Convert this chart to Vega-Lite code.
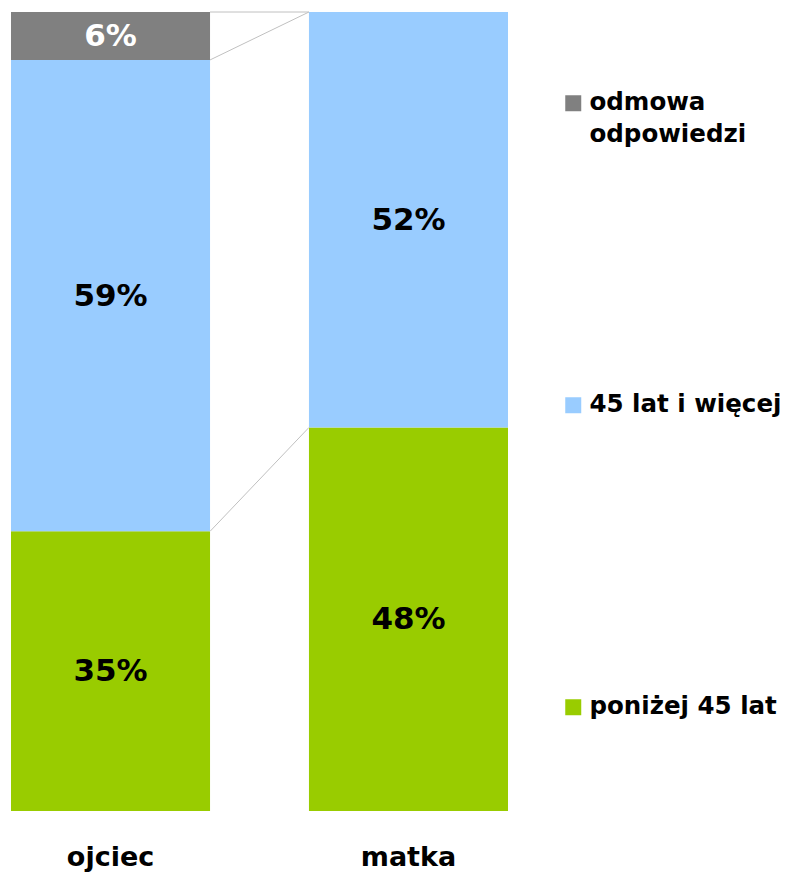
{
  "$schema": "https://vega.github.io/schema/vega-lite/v6.json",
  "width": 497,
  "height": 799,
  "autosize": "none",
  "padding": {"left": 11, "top": 12, "right": 284, "bottom": 61},
  "background": "white",
  "config": {"view": {"stroke": null}, "font": "DejaVu Sans", "style": {"guide-label": {"lineHeight": 32}}},
  "datasets": {
    "bars": [
      {"rodzic": "ojciec", "kat": "poniżej 45 lat", "kolejnosc": 1, "wartosc": 35},
      {"rodzic": "ojciec", "kat": "45 lat i więcej", "kolejnosc": 2, "wartosc": 59},
      {"rodzic": "ojciec", "kat": "odmowa odpowiedzi", "kolejnosc": 3, "wartosc": 6},
      {"rodzic": "matka", "kat": "poniżej 45 lat", "kolejnosc": 1, "wartosc": 48},
      {"rodzic": "matka", "kat": "45 lat i więcej", "kolejnosc": 2, "wartosc": 52}
    ],
    "lines": [
      {"z": "ojciec", "do": "matka", "a": 35, "b": 48},
      {"z": "ojciec", "do": "matka", "a": 94, "b": 100},
      {"z": "ojciec", "do": "matka", "a": 100, "b": 100}
    ]
  },
  "layer": [
    {
      "data": {"name": "bars"},
      "transform": [
        {"stack": "wartosc", "groupby": ["rodzic"], "sort": [{"field": "kolejnosc"}], "as": ["y0", "y1"]}
      ],
      "mark": {"type": "bar"},
      "encoding": {
        "x": {"field": "rodzic", "type": "nominal",
          "scale": {"domain": ["ojciec", "matka"], "paddingInner": 0.332, "paddingOuter": 0},
          "axis": {"title": null, "domain": false, "ticks": false, "labelFont": "DejaVu Sans", "labelFontWeight": "bold", "labelFontSize": 27, "labelColor": "black", "labelBaseline": "alphabetic", "labelPadding": 54, "labelAngle": 0}},
        "y": {"field": "y0", "type": "quantitative", "scale": {"domain": [0, 100], "nice": false}, "axis": null},
        "y2": {"field": "y1"},
        "color": {"field": "kat", "type": "nominal",
          "scale": {"domain": ["odmowa odpowiedzi", "45 lat i więcej", "poniżej 45 lat"], "range": ["#808080", "#99ccff", "#99cc00"]},
          "legend": {"title": null, "orient": "none", "legendX": 550, "legendY": 79, "symbolType": "square", "symbolSize": 256, "symbolStrokeWidth": 0, "labelFont": "DejaVu Sans", "labelFontWeight": "bold", "labelFontSize": 24.5, "labelColor": "black", "labelOffset": 4, "rowPadding": 245, "labelLimit": 300,
            "labelExpr": "datum.label == 'odmowa odpowiedzi' ? ['odmowa', 'odpowiedzi'] : [datum.label, '']"}
        }
      }
    },
    {
      "data": {"name": "bars"},
      "transform": [
        {"stack": "wartosc", "groupby": ["rodzic"], "sort": [{"field": "kolejnosc"}], "as": ["y0", "y1"]},
        {"calculate": "(datum.y0 + datum.y1) / 2", "as": "srodek"},
        {"calculate": "datum.wartosc + '%'", "as": "etykieta"}
      ],
      "mark": {"type": "text", "font": "DejaVu Sans", "fontWeight": "bold", "fontSize": 31, "baseline": "middle", "align": "center", "dy": 1},
      "encoding": {
        "x": {"field": "rodzic", "type": "nominal"},
        "y": {"field": "srodek", "type": "quantitative"},
        "text": {"field": "etykieta"},
        "color": {"condition": {"test": "datum.kat === 'odmowa odpowiedzi'", "value": "white"}, "value": "black"}
      }
    },
    {
      "data": {"name": "lines"},
      "mark": {"type": "rule", "color": "#c0c0c0", "strokeWidth": 1},
      "encoding": {
        "x": {"field": "z", "type": "nominal", "bandPosition": 1},
        "x2": {"field": "do", "bandPosition": 0},
        "y": {"field": "a", "type": "quantitative"},
        "y2": {"field": "b"}
      }
    }
  ]
}
